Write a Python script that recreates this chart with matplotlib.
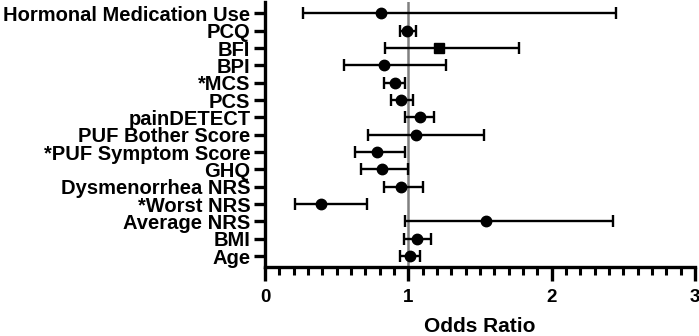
import matplotlib
matplotlib.use("Agg")
import matplotlib.pyplot as plt
import numpy as np
from matplotlib.ticker import MultipleLocator

plt.rcParams['font.family'] = ['Liberation Sans', 'DejaVu Sans']
plt.rcParams['font.weight'] = 'bold'

labels = ["Hormonal Medication Use", "PCQ", "BFI", "BPI", "*MCS", "PCS", "painDETECT",
          "PUF Bother Score", "*PUF Symptom Score", "GHQ", "Dysmenorrhea NRS", "*Worst NRS",
          "Average NRS", "BMI", "Age"]
odds = [0.81, 0.99, 1.215, 0.83, 0.905, 0.95, 1.08, 1.05, 0.78, 0.815, 0.95, 0.39, 1.54, 1.06, 1.01]
lower = [0.266, 0.94, 0.84, 0.55, 0.83, 0.88, 0.98, 0.72, 0.63, 0.667, 0.83, 0.21, 0.98, 0.97, 0.94]
upper = [2.45, 1.05, 1.77, 1.26, 0.98, 1.03, 1.18, 1.53, 0.98, 0.995, 1.10, 0.71, 2.43, 1.16, 1.08]
markers = ["o", "o", "s", "o", "o", "o", "o", "o", "o", "o", "o", "o", "o", "o", "o"]

fig = plt.figure(figsize=(6.99, 3.36), dpi=100)
ax = fig.add_axes([265/699, 1-267/336, 430/699, 265/336])

n = len(labels)
ypos = np.arange(n)[::-1]
ax.axvline(1, color='#808080', lw=1.8, zorder=1)
for y, o, lo, hi, m in zip(ypos, odds, lower, upper, markers):
    ax.errorbar(o, y, xerr=[[o-lo], [hi-o]], fmt=m, color='black', ms=7.5 if m == 'o' else 7,
                elinewidth=1.7, capsize=4, capthick=1.7, zorder=3)

ax.set_xlim(0, 3)
ax.set_ylim(-0.63, 14.66)
ax.set_yticks(ypos)
ax.set_yticklabels(labels, fontsize=14.5, fontweight='bold')
ax.xaxis.set_minor_locator(MultipleLocator(0.1))
ax.set_xticks([0, 1, 2, 3])
ax.set_xticklabels(["0", "1", "2", "3"], fontsize=13.5, fontweight='bold')
ax.set_xlabel("Odds Ratio", fontsize=15, fontweight='bold', labelpad=7.5)

for s in ['top', 'right']:
    ax.spines[s].set_visible(False)
for s in ['left', 'bottom']:
    ax.spines[s].set_linewidth(2.4)
ax.tick_params(axis='y', length=8, width=2.4, pad=2.5)
ax.tick_params(axis='x', which='major', length=10, width=2.4, pad=6)
ax.tick_params(axis='x', which='minor', length=5.5, width=2.2)

fig.savefig("out.png", dpi=100)
